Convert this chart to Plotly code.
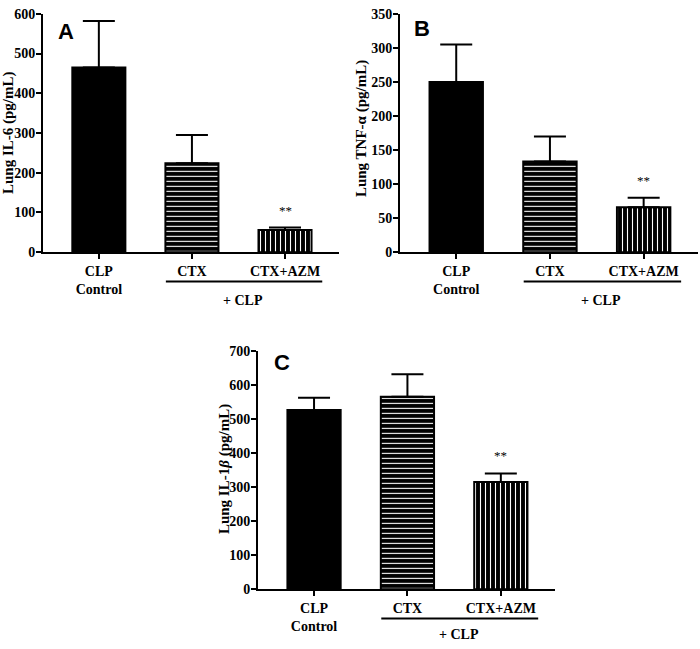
import plotly.graph_objects as go

categories = [0, 1, 2]
tick_labels = ["CLP<br>Control", "CTX", "CTX+AZM"]

il6_mean = [465, 224, 56]
il6_err = [117, 71, 6]
tnf_mean = [250, 133, 66]
tnf_err = [55, 37, 14]
il1b_mean = [526, 565, 315]
il1b_err = [36, 66, 25]

sig_marks = ["", "", "**"]

W, H = 700, 649

def px_x(p):
    return p / W

def px_y(p):
    return 1 - p / H

SERIF = "Liberation Serif"
SANS = "Liberation Sans"

patterns = ["", "-", "|"]

fig = go.Figure()

panels = [
    dict(mean=il6_mean, err=il6_err, xa="x", ya="y", ymax=600, dtick=100,
         xdom=[px_x(43), px_x(339)], ydom=[px_y(251), px_y(7)]),
    dict(mean=tnf_mean, err=tnf_err, xa="x2", ya="y2", ymax=350, dtick=50,
         xdom=[px_x(400), px_x(698)], ydom=[px_y(251), px_y(7)]),
    dict(mean=il1b_mean, err=il1b_err, xa="x3", ya="y3", ymax=700, dtick=100,
         xdom=[px_x(258), px_x(555)], ydom=[px_y(596), px_y(352)]),
]

for p in panels:
    for i, c in enumerate(categories):
        marker = dict(color="black", line=dict(color="black", width=2))
        if patterns[i]:
            marker["pattern"] = dict(shape=patterns[i], fgcolor="white", bgcolor="black",
                                     size=5, solidity=0.22, fillmode="replace")
        fig.add_trace(go.Bar(
            x=[c], y=[p["mean"][i]], width=0.57, marker=marker,
            error_y=dict(type="data", symmetric=False, array=[p["err"][i]],
                         arrayminus=[0], color="black", thickness=2, width=16),
            xaxis=p["xa"], yaxis=p["ya"], showlegend=False, hoverinfo="skip",
        ))

layout = dict(width=W, height=H, margin=dict(l=0, r=0, t=0, b=0),
              plot_bgcolor="white", paper_bgcolor="white",
              font=dict(family=SERIF, color="black"))

for k, p in enumerate(panels):
    sfx = "" if k == 0 else str(k + 1)
    layout["xaxis" + sfx] = dict(showline=True, linecolor="black", linewidth=2, ticks="outside",
                                 tickcolor="black", tickwidth=2, ticklen=5, showgrid=False,
                                 zeroline=False, domain=p["xdom"], range=[-0.6, 2.58],
                                 tickvals=categories, ticktext=tick_labels,
                                 tickfont=dict(family=SERIF, size=14, color="black", weight="bold"),
                                 anchor="y" + sfx)
    layout["yaxis" + sfx] = dict(showline=True, linecolor="black", linewidth=2, ticks="outside",
                                 tickcolor="black", tickwidth=2, ticklen=5, showgrid=False,
                                 zeroline=False, domain=p["ydom"], range=[0, p["ymax"]],
                                 dtick=p["dtick"], tickformat="d",
                                 tickfont=dict(family=SERIF, size=14, color="black", weight="bold"),
                                 ticklabelstandoff=-2,
                                 anchor="x" + sfx)

fig.update_layout(**layout)

annotations = []
shapes = []
titles = [("Lung IL-6 (pg/mL)", 8, 129), ("Lung TNF-α (pg/mL)", 361, 125),
          ("Lung IL-1<i>β</i> (pg/mL)", 224, 473)]
for t, x, y in titles:
    annotations.append(dict(text=t, x=px_x(x), y=px_y(y), xref="paper", yref="paper",
                            textangle=-90, showarrow=False, xanchor="center", yanchor="middle",
                            font=dict(family=SERIF, size=15, color="black", weight="bold")))
letters = [("A", 66, 25), ("B", 422, 22), ("C", 282, 364)]
for t, x, y in letters:
    annotations.append(dict(text=t, x=px_x(x), y=px_y(y), xref="paper", yref="paper",
                            showarrow=False, xanchor="center", yanchor="middle",
                            font=dict(family=SANS, size=22, color="black", weight="bold")))
for k, p in enumerate(panels):
    for i, c in enumerate(categories):
        if sig_marks[i]:
            annotations.append(dict(text=sig_marks[i], x=c, y=p["mean"][i] + p["err"][i],
                                    xref=p["xa"], yref=p["ya"], showarrow=False,
                                    yanchor="bottom", yshift=8,
                                    font=dict(family=SERIF, size=13, color="black")))
group_y = [(281, 300), (281, 300), (626, 642)]
for k, p in enumerate(panels):
    ly, ty = group_y[k]
    shapes.append(dict(type="line", xref=p["xa"], yref="paper", x0=0.72, x1=2.4,
                       y0=px_y(ly), y1=px_y(ly), line=dict(color="black", width=2)))
    annotations.append(dict(text="+ CLP", x=1.55, y=px_y(ty), xref=p["xa"], yref="paper",
                            showarrow=False, xanchor="center", yanchor="middle",
                            font=dict(family=SERIF, size=14, color="black", weight="bold")))

fig.update_layout(annotations=annotations, shapes=shapes)
fig.write_html("out.html", config={"displayModeBar": False},
               post_script="document.body.style.margin='0px';")
